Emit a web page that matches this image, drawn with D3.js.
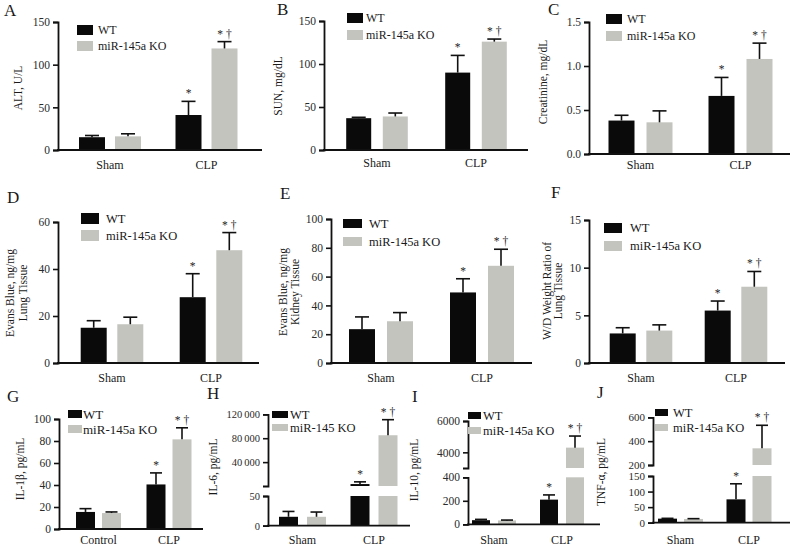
<!DOCTYPE html>
<html><head><meta charset="utf-8">
<script src="https://cdn.jsdelivr.net/npm/d3@7"></script>
<style>
body{margin:0;background:#fff}
svg{display:block}
.sig{opacity:0.99}
</style>
</head><body>
<svg id="c" width="793" height="546"></svg>
<script>
// ---------- DATA ----------
const series = ["WT", "miR-145a KO"];
const seriesH = ["WT", "miR-145 KO"];
const groupsSC = ["Sham", "CLP"];
const groupsCC = ["Control", "CLP"];
// order of values: [Sham WT, Sham KO, CLP WT, CLP KO]
const sigMarks = ["", "", "*", "* \u2020"];

const altMean = [15, 16, 41, 119];
const altSD   = [2, 3, 16, 8];
const altTicks = [0, 50, 100, 150];

const sunMean = [37, 39, 90, 126];
const sunSD   = [1, 4, 20, 3];
const sunTicks = [0, 50, 100, 150];

const creMean = [0.38, 0.36, 0.66, 1.08];
const creSD   = [0.06, 0.13, 0.21, 0.18];
const creTicks = [0, 0.5, 1.0, 1.5];

const ebLungMean = [15, 16.5, 28, 48];
const ebLungSD   = [3, 3, 10, 7.5];
const ebLungTicks = [0, 20, 40, 60];

const ebKidMean = [23.5, 29, 49, 67.5];
const ebKidSD   = [8.5, 6, 9.5, 11.5];
const ebKidTicks = [0, 20, 40, 60, 80, 100];

const wdMean = [3.1, 3.4, 5.5, 8.0];
const wdSD   = [0.6, 0.6, 1.0, 1.6];
const wdTicks = [0, 5, 10, 15];

const il1Mean = [15.5, 14.5, 40.5, 81.5];
const il1SD   = [3, 1, 10.5, 10.5];
const il1Ticks = [0, 20, 40, 60, 80, 100];

const il6Mean = [15, 15, 3300, 85000];
const il6SD   = [9, 8, 3700, 26000];
const il6TicksLow = [0, 50];
const il6TicksHigh = [40000, 80000, 120000];

const il10Mean = [35, 33, 210, 4300];
const il10SD   = [7, 3, 40, 740];
const il10TicksLow = [0, 200, 400];
const il10TicksHigh = [4000, 6000];

const tnfMean = [13, 12, 75, 340];
const tnfSD   = [1, 1, 50, 193];
const tnfTicksLow = [0, 50, 100, 150];
const tnfTicksHigh = [200, 400, 600];

// ---------- DRAW ----------
const FONT = "'Liberation Serif','Times New Roman',Times,serif";
const svg = d3.select("#c").attr("font-family", FONT);
const BLACK = "#0a0a0a", GRAY = "#c4c4bf";
const colors = [BLACK, GRAY];

function panel(cfg) {
  const g = svg.append("g");
  const segs = cfg.segs.map(s => Object.assign({}, s, {y: d3.scaleLinear().domain(s.domain).range(s.range)}));
  const xg = d3.scalePoint().domain(cfg.groups).range(cfg.gc);
  const xs = d3.scalePoint().domain(cfg.series).range([-cfg.off, cfg.off]);
  const rows = [];
  cfg.groups.forEach((gr, gi) => cfg.series.forEach((se, si) => {
    const k = gi * 2 + si;
    rows.push({gr, se, si, v: cfg.mean[k], sd: cfg.sd[k], sig: sigMarks[k]});
  }));
  segs.forEach(s => {
    const d0 = s.domain[0], d1 = s.domain[1];
    g.selectAll(null).data(rows.filter(r => r.v > d0)).enter().append("rect")
      .attr("x", r => xg(r.gr) + xs(r.se) - cfg.bw / 2)
      .attr("width", cfg.bw)
      .attr("y", r => s.y(Math.min(r.v, d1)))
      .attr("height", r => s.y(d0) - s.y(Math.min(r.v, d1)))
      .attr("fill", r => colors[r.si]);
  });
  rows.forEach(r => {
    const s = segs.find(s => r.v >= s.domain[0] && r.v <= s.domain[1]) || segs[segs.length - 1];
    const cx = xg(r.gr) + xs(r.se);
    const yt = s.y(r.v + r.sd), yb = s.y(r.v);
    g.append("line").attr("x1", cx).attr("x2", cx).attr("y1", yb).attr("y2", yt)
      .attr("stroke", "#111").attr("stroke-width", 1.6);
    g.append("line").attr("x1", cx - cfg.cap).attr("x2", cx + cfg.cap).attr("y1", yt).attr("y2", yt)
      .attr("stroke", "#111").attr("stroke-width", 1.6);
    if (r.sig) {
      g.append("text").attr("class", "sig").attr("x", cx).attr("y", yt - 4).attr("text-anchor", "middle")
        .attr("font-size", 11.5).attr("fill", "#222").text(r.sig);
    }
  });
  segs.forEach(s => {
    const ax = g.append("g").attr("transform", `translate(${cfg.ax},0)`)
      .call(d3.axisLeft(s.y).tickValues(s.ticks).tickSize(5).tickSizeOuter(5).tickPadding(3).tickFormat(cfg.fmt));
    ax.attr("font-family", FONT).attr("font-size", cfg.tfs || 11.5);
    ax.select(".domain").attr("stroke", "#111").attr("stroke-width", 1.8);
    ax.selectAll(".tick line").attr("stroke", "#111").attr("stroke-width", 1.6);
    ax.selectAll(".tick text").attr("fill", "#2a2a2a");
  });
  const y0 = segs[0].y(0);
  g.append("line").attr("x1", cfg.ax - 1).attr("x2", cfg.xEnd).attr("y1", y0).attr("y2", y0)
    .attr("stroke", "#111").attr("stroke-width", 1.8);
  g.selectAll(null).data(cfg.groups).enter().append("text")
    .attr("x", d => xg(d)).attr("y", cfg.catY).attr("text-anchor", "middle")
    .attr("font-size", 12).attr("fill", "#1a1a1a").text(d => d);
  cfg.title.forEach((t, i) => {
    g.append("text").attr("transform", `translate(${cfg.tx[i]},${cfg.tcy}) rotate(-90)`)
      .attr("text-anchor", "middle").attr("dy", "0.35em").attr("font-size", cfg.tfsT || 11.5)
      .attr("fill", "#1a1a1a").text(t);
  });
  const L = cfg.leg;
  cfg.series.forEach((se, i) => {
    g.append("rect").attr("x", L.x).attr("y", L.ys[i]).attr("width", L.w).attr("height", L.h).attr("fill", colors[i]);
    g.append("text").attr("x", L.tx).attr("y", L.ys[i] + L.h / 2).attr("dy", "0.35em")
      .attr("font-size", L.fs).attr("fill", "#1a1a1a").text(se);
  });
  g.append("text").attr("x", cfg.lx).attr("y", cfg.ly).attr("font-size", 17).attr("fill", "#1a1a1a").text(cfg.letter);
}

const f0 = d3.format("d"), f1 = d3.format(".1f");
const fSp = d => d3.format(",")(d).replace(/,/g, "\u2009");

panel({letter:"A", lx:4, ly:16, ax:58, xEnd:262, gc:[110,206.5], off:18, bw:26, cap:7,
  segs:[{domain:[0,150], range:[150,22], ticks:altTicks}], fmt:f0,
  groups:groupsSC, series, mean:altMean, sd:altSD, catY:169,
  title:["ALT, U/L"], tx:[18], tcy:88,
  leg:{x:77, ys:[25,41], w:16, h:10, tx:98, fs:12}});

panel({letter:"B", lx:277, ly:15, ax:324, xEnd:528, gc:[377,476], off:18.3, bw:25, cap:7,
  segs:[{domain:[0,150], range:[150,21], ticks:sunTicks}], fmt:f0,
  groups:groupsSC, series, mean:sunMean, sd:sunSD, catY:167,
  title:["SUN, mg/dL"], tx:[278], tcy:86,
  leg:{x:347, ys:[13,30], w:16, h:10, tx:366, fs:12}});

panel({letter:"C", lx:548, ly:15, ax:589, xEnd:790, gc:[640.5,740.5], off:19, bw:26, cap:7,
  segs:[{domain:[0,1.5], range:[154,22], ticks:creTicks}], fmt:f1,
  groups:groupsSC, series, mean:creMean, sd:creSD, catY:169,
  title:["Creatinine, mg/dL"], tx:[543], tcy:82,
  leg:{x:606, ys:[14,31], w:16, h:10, tx:627, fs:12}});

panel({letter:"D", lx:7, ly:203, ax:58, xEnd:259, gc:[112,211], off:18.3, bw:26, cap:7,
  segs:[{domain:[0,60], range:[363,222], ticks:ebLungTicks}], fmt:f0,
  groups:groupsSC, series, mean:ebLungMean, sd:ebLungSD, catY:382,
  title:["Evans Blue, ng/mg","Lung Tissue"], tx:[10,23], tcy:293,
  leg:{x:81, ys:[213,230], w:18, h:11, tx:106, fs:12.5}});

panel({letter:"E", lx:280, ly:199, ax:331, xEnd:532, gc:[381,482], off:19, bw:26, cap:7,
  segs:[{domain:[0,100], range:[363,219], ticks:ebKidTicks}], fmt:f0,
  groups:groupsSC, series, mean:ebKidMean, sd:ebKidSD, catY:382,
  title:["Evans Blue, ng/mg","Kidney Tissue"], tx:[283,295], tcy:292,
  leg:{x:343, ys:[219,237], w:19, h:9, tx:369, fs:12.5}});

panel({letter:"F", lx:551, ly:198, ax:589, xEnd:785, gc:[641,736], off:18.3, bw:26, cap:7,
  segs:[{domain:[0,15], range:[363,220], ticks:wdTicks}], fmt:f0,
  groups:groupsSC, series, mean:wdMean, sd:wdSD, catY:382,
  title:["W/D Weight Ratio of","Lung Tissue"], tx:[547,558], tcy:291,
  leg:{x:604, ys:[223,241], w:18, h:10, tx:630, fs:12.5}});

panel({letter:"G", lx:7, ly:402, ax:59, xEnd:203, gc:[98.5,169], off:13, bw:19, cap:6,
  segs:[{domain:[0,100], range:[529,419], ticks:il1Ticks}], fmt:f0,
  groups:groupsCC, series, mean:il1Mean, sd:il1SD, catY:544,
  title:["IL-1\u03b2, pg/mL"], tx:[20], tcy:469,
  leg:{x:68, ys:[410,425], w:14, h:8, tx:83, fs:13}});

panel({letter:"H", lx:207, ly:399, ax:268, xEnd:410, gc:[302.5,374], off:14, bw:19, cap:6,
  segs:[{domain:[0,50], range:[525.7,496], ticks:il6TicksLow},
        {domain:[50,120000], range:[486,414.3], ticks:il6TicksHigh}], fmt:fSp, tfs:10.5,
  groups:groupsSC, series:seriesH, mean:il6Mean, sd:il6SD, catY:544,
  title:["IL-6, pg/mL"], tx:[213], tcy:467,
  leg:{x:272, ys:[411,424], w:16, h:7, tx:290, fs:12.5}});

panel({letter:"I", lx:412, ly:402, ax:468, xEnd:600, gc:[494,562], off:13, bw:18, cap:6,
  segs:[{domain:[0,400], range:[524.3,477.3], ticks:il10TicksLow},
        {domain:[3000,6000], range:[468,421], ticks:il10TicksHigh}], fmt:f0,
  groups:groupsSC, series, mean:il10Mean, sd:il10SD, catY:544,
  title:["IL-10, pg/mL"], tx:[414], tcy:470,
  leg:{x:468, ys:[412,427], w:13, h:7, tx:483, fs:12.5}});

panel({letter:"J", lx:597, ly:398, ax:653, xEnd:790, gc:[680.5,749], off:13, bw:19, cap:6,
  segs:[{domain:[0,150], range:[522.7,476], ticks:tnfTicksLow},
        {domain:[200,600], range:[465,417.3], ticks:tnfTicksHigh}], fmt:f0, tfs:11,
  groups:groupsSC, series, mean:tnfMean, sd:tnfSD, catY:544,
  title:["TNF-\u03b1, pg/mL"], tx:[601], tcy:472,
  leg:{x:655, ys:[409,424], w:13, h:7, tx:673, fs:12.5}});
</script>
</body></html>
